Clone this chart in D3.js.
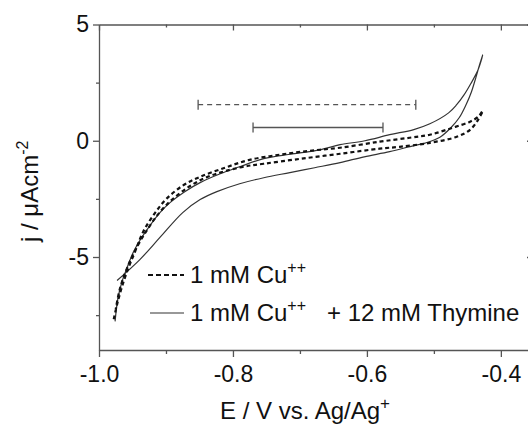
<!DOCTYPE html>
<html>
<head>
<meta charset="utf-8">
<script src="https://cdn.jsdelivr.net/npm/d3@7"></script>
<style>
  body { margin: 0; background: #fff; }
  svg text { font-family: "Liberation Sans", Arial, sans-serif; fill: #111; }
</style>
</head>
<body>
<div id="chart"></div>
<script>
// cyclic voltammograms (E in V, j in uA/cm2)
// 1 mM Cu++ : forward scan then return scan
var cuE = [-0.978, -0.973, -0.966, -0.957, -0.946, -0.934, -0.916, -0.899, -0.875, -0.849, -0.812, -0.775, -0.730, -0.685, -0.640, -0.581, -0.536, -0.506, -0.472, -0.446, -0.434, -0.427,
           -0.434, -0.446, -0.466, -0.506, -0.551, -0.581, -0.640, -0.700, -0.754, -0.790, -0.849, -0.899, -0.934, -0.957, -0.969, -0.975];
var cuJ = [-7.68, -7.04, -6.31, -5.54, -4.76, -3.91, -3.09, -2.49, -1.93, -1.55, -1.16, -0.82, -0.60, -0.43, -0.30, -0.04, 0.13, 0.26, 0.56, 0.82, 1.03, 1.29,
           0.90, 0.47, 0.17, -0.09, -0.26, -0.34, -0.56, -0.78, -0.99, -1.15, -1.70, -2.75, -4.10, -5.40, -6.39, -7.25];

// 1 mM Cu++ + 12 mM Thymine
var thyE = [-0.976, -0.972, -0.966, -0.958, -0.949, -0.939, -0.924, -0.909, -0.894, -0.872, -0.849, -0.819, -0.790, -0.754, -0.715, -0.670, -0.640, -0.603, -0.566, -0.530, -0.506, -0.478, -0.466, -0.455, -0.445, -0.434, -0.427,
            -0.432, -0.437, -0.444, -0.452, -0.462, -0.475, -0.491, -0.513, -0.530, -0.566, -0.604, -0.640, -0.678, -0.715, -0.754, -0.790, -0.824, -0.849, -0.875, -0.909, -0.939, -0.973];
var thyJ = [-7.77, -6.82, -6.09, -5.45, -4.81, -4.29, -3.65, -3.09, -2.66, -2.19, -1.80, -1.42, -1.12, -0.77, -0.58, -0.39, -0.17, 0.00, 0.26, 0.48, 0.73, 1.20, 1.55, 1.97, 2.45, 3.05, 3.69,
            3.25, 2.75, 2.10, 1.55, 1.00, 0.55, 0.15, -0.10, -0.21, -0.47, -0.69, -0.94, -1.16, -1.37, -1.59, -1.85, -2.19, -2.53, -3.09, -4.16, -5.11, -6.01];

// the two potential-window bars drawn above the curves
var barE1 = [-0.852, -0.770];
var barE2 = [-0.527, -0.576];
var barJ = [1.55, 0.57];

var xTicks = [-1.0, -0.8, -0.6, -0.4];
var xMinor = [-0.9, -0.7, -0.5];
var yTicks = [5, 0, -5];
var yMinor = [2.5, -2.5, -7.5];

var W = 528, H = 426;
var margin = {top: 24.5, right: -3, bottom: 76, left: 99};
var AXIS_COL = "#555";

var svg = d3.select("#chart").append("svg")
    .attr("width", W).attr("height", H);

var x = d3.scaleLinear().domain([-1.0, -0.355]).range([margin.left, W - margin.right]);
var y = d3.scaleLinear().domain([-9, 5]).range([H - margin.bottom, margin.top]);

function axisStyle(g) {
    g.select(".domain").attr("stroke", AXIS_COL).attr("stroke-width", 1.3);
    g.selectAll(".tick line").attr("stroke", AXIS_COL).attr("stroke-width", 1.3);
}

// bottom axis
var gb = svg.append("g").attr("transform", "translate(0," + y(-9) + ")")
    .call(d3.axisBottom(x).tickValues(xTicks).tickSize(7).tickSizeOuter(0).tickPadding(5));
axisStyle(gb);
gb.selectAll(".tick text").attr("font-size", 23).attr("dy", "0.85em")
    .text(d => d3.format(".1f")(d).replace("−", "-"));
var gbm = svg.append("g").attr("transform", "translate(0," + y(-9) + ")")
    .call(d3.axisBottom(x).tickValues(xMinor).tickSize(4).tickFormat(""));
axisStyle(gbm); gbm.select(".domain").remove();

// top axis (ticks inward)
var gt = svg.append("g").attr("transform", "translate(0," + y(5) + ")")
    .call(d3.axisBottom(x).tickValues(xTicks).tickSize(6).tickSizeOuter(0).tickFormat(""));
axisStyle(gt);
var gtm = svg.append("g").attr("transform", "translate(0," + y(5) + ")")
    .call(d3.axisBottom(x).tickValues(xMinor).tickSize(3).tickFormat(""));
axisStyle(gtm); gtm.select(".domain").remove();

// left axis
var gl = svg.append("g").attr("transform", "translate(" + x(-1.0) + ",0)")
    .call(d3.axisLeft(y).tickValues(yTicks).tickSize(6).tickSizeOuter(0).tickPadding(4));
axisStyle(gl);
gl.selectAll(".tick text").attr("font-size", 23)
    .text(d => String(d));
var glm = svg.append("g").attr("transform", "translate(" + x(-1.0) + ",0)")
    .call(d3.axisLeft(y).tickValues(yMinor).tickSize(3).tickFormat(""));
axisStyle(glm); glm.select(".domain").remove();

// right axis (ticks inward)
var gr = svg.append("g").attr("transform", "translate(" + x(-0.355) + ",0)")
    .call(d3.axisLeft(y).tickValues(yTicks).tickSize(4).tickSizeOuter(0).tickFormat(""));
axisStyle(gr);

// bars
var bars = [0, 1].map(i => ({e1: barE1[i], e2: barE2[i], j: barJ[i], dash: i == 0}));
var bg = svg.append("g").selectAll("g").data(bars).enter().append("g")
    .attr("stroke", "#555").attr("stroke-width", 1.3);
bg.append("line")
    .attr("x1", d => x(d.e1)).attr("x2", d => x(d.e2))
    .attr("y1", d => y(d.j)).attr("y2", d => y(d.j))
    .attr("stroke-dasharray", d => d.dash ? "5,4" : null);
bg.append("line")
    .attr("x1", d => x(d.e1)).attr("x2", d => x(d.e1))
    .attr("y1", d => y(d.j) - 5).attr("y2", d => y(d.j) + 5);
bg.append("line")
    .attr("x1", d => x(d.e2)).attr("x2", d => x(d.e2))
    .attr("y1", d => y(d.j) - 5).attr("y2", d => y(d.j) + 5);

// curves
var line = d3.line()
    .x(d => x(d[0])).y(d => y(d[1]))
    .curve(d3.curveCatmullRom.alpha(0.5));

svg.append("path")
    .datum(thyE.map((e, i) => [e, thyJ[i]]))
    .attr("d", line)
    .attr("fill", "none").attr("stroke", "#333").attr("stroke-width", 1.2);

svg.append("path")
    .datum(cuE.map((e, i) => [e, cuJ[i]]))
    .attr("d", line)
    .attr("fill", "none").attr("stroke", "#111").attr("stroke-width", 2.2)
    .attr("stroke-dasharray", "4,3");

// legend
var leg = svg.append("g");
leg.append("line").attr("x1", 148).attr("x2", 184).attr("y1", 275).attr("y2", 275)
    .attr("stroke", "#111").attr("stroke-width", 2.2).attr("stroke-dasharray", "5,3");
leg.append("line").attr("x1", 150).attr("x2", 184).attr("y1", 313).attr("y2", 313)
    .attr("stroke", "#333").attr("stroke-width", 1.2);

var t1 = leg.append("text").attr("x", 190).attr("y", 283).attr("font-size", 24);
t1.append("tspan").text("1 mM Cu");
t1.append("tspan").attr("dy", -10).attr("font-size", 16).text("++");

var t2 = leg.append("text").attr("x", 190).attr("y", 321).attr("font-size", 24);
t2.append("tspan").text("1 mM Cu");
t2.append("tspan").attr("dy", -10).attr("font-size", 16).text("++");
leg.append("text").attr("x", 327).attr("y", 321).attr("font-size", 24).text("+ 12 mM Thymine");

// axis titles
var xt = svg.append("text").attr("x", 220).attr("y", 419).attr("font-size", 24);
xt.append("tspan").text("E / V vs. Ag/Ag");
xt.append("tspan").attr("dy", -10).attr("font-size", 17).text("+");

var yt = svg.append("text").attr("transform", "translate(38,242) rotate(-90)").attr("font-size", 24);
yt.append("tspan").text("j / \u03bcAcm");
yt.append("tspan").attr("dy", -10).attr("font-size", 16).text("-2");
</script>
</body>
</html>
